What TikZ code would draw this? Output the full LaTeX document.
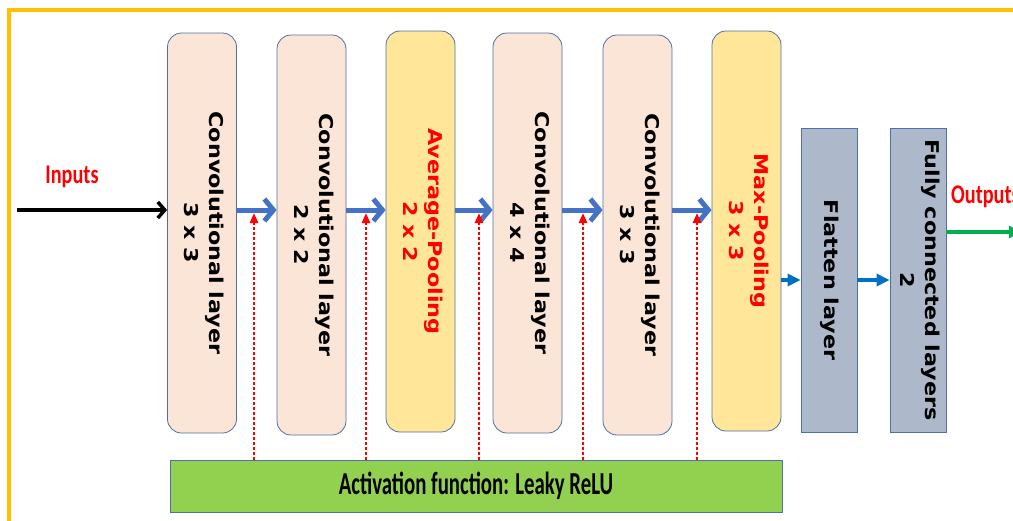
\documentclass[tikz,border=0pt]{standalone}
\usepackage{fontspec}
\setmainfont{DejaVu Sans}
\newfontfamily\boxfont{DejaVu Sans}[FakeStretch=1.17]
\newfontfamily\calfont{Carlito}
\usetikzlibrary{arrows.meta}
\definecolor{convfill}{HTML}{FBE5D6}
\definecolor{poolfill}{HTML}{FFE699}
\definecolor{densefill}{HTML}{ADB9CA}
\definecolor{barfill}{HTML}{92D050}
\definecolor{edgecol}{HTML}{4F6FAA}
\definecolor{framecol}{HTML}{FFC000}
\definecolor{flowblue}{HTML}{4472C4}
\definecolor{smallblue}{HTML}{0070C0}
\definecolor{outgreen}{HTML}{00B050}
\definecolor{lblred}{HTML}{FF0000}
\newcommand\vlabel[1]{\rotatebox{-90}{\begin{tabular}{@{}c@{}}#1\end{tabular}}}
\begin{document}
\begin{tikzpicture}[x=1pt,y=-1pt,
  layerbox/.style={draw=edgecol, line width=0.8pt, rounded corners=14pt, inner sep=0pt,
    minimum width=69pt, minimum height=400pt,
    font=\boxfont\bfseries\fontsize{19}{25}\selectfont},
  convbox/.style={layerbox, fill=convfill},
  poolbox/.style={layerbox, fill=poolfill, text=lblred},
  densebox/.style={draw=edgecol, line width=0.8pt, fill=densefill, inner sep=0pt,
    minimum width=56pt, minimum height=304pt,
    font=\boxfont\bfseries\fontsize{19}{25}\selectfont},
  barbox/.style={draw=edgecol, line width=0.8pt, fill=barfill, inner sep=0pt,
    minimum width=612pt, minimum height=52pt,
    font=\calfont\bfseries\fontsize{32}{36}\selectfont},
  redlabel/.style={text=lblred, inner sep=0pt, font=\calfont\bfseries\fontsize{27}{30}\selectfont},
  flowarrow/.style={draw=flowblue, line width=5pt, -{Straight Barb[length=9pt,width=22pt]}},
  inarrow/.style={draw=black, line width=3.5pt, -{Straight Barb[length=7pt,width=16pt]}},
  smallarrow/.style={draw=smallblue, line width=4pt, -{Triangle[length=13pt,width=12pt]}},
  actarrow/.style={draw=lblred, line width=2.6pt, dash pattern=on 2.6pt off 2.4pt, -{Triangle[length=10pt,width=8pt]}},
  outarrow/.style={draw=outgreen, line width=4pt, -{Triangle[length=12pt,width=12pt]}}
]
\useasboundingbox (0,0) rectangle (1013,520);
% frame
\draw[framecol, line width=4.5pt] (9,10) rectangle (1060,570);

% layers
\node[convbox, minimum height=400pt] (c1) at (202,233) {\vlabel{Convolutional layer\\3 x 3}};
\node[convbox, minimum height=400pt] (c2) at (311.5,235) {\vlabel{Convolutional layer\\2 x 2}};
\node[poolbox, minimum height=401pt] (ap) at (420.5,231.5) {\vlabel{Average-Pooling\\2 x 2}};
\node[convbox, minimum height=400pt] (c4) at (527.5,233) {\vlabel{Convolutional layer\\4 x 4}};
\node[convbox, minimum height=400pt] (c5) at (637.5,235) {\vlabel{Convolutional layer\\3 x 3}};
\node[poolbox, minimum height=400pt] (mp) at (746.5,231) {\vlabel{Max-Pooling\\3 x 3}};
\node[densebox] (fl) at (829,280) {\vlabel{Flatten layer}};
\node[densebox] (fc) at (918,280) {\vlabel{Fully connected layers\\2}};
\node[barbox] (act) at (476,486) {\scalebox{0.65}[1]{Activation function: Leaky ReLU}};

% labels
\node[redlabel] (inlbl) at (72,177) {\scalebox{0.75}[1]{Inputs}};
\node[redlabel, anchor=west] (outlbl) at (951,197) {\scalebox{0.75}[1]{Outputs}};

% helper coordinates
\coordinate (flow) at (0,210);
\coordinate (small) at (0,280);
\coordinate (outy) at (0,232);
\coordinate (inStart) at (17,210);
\coordinate (outEnd) at (1021,232);
\coordinate (d1) at (254,213);
\coordinate (d2) at (366,213);
\coordinate (d3) at (479,213);
\coordinate (d4) at (583,213);
\coordinate (d5) at (697,213);

% main flow
\draw[inarrow] (inStart) -- (c1.west |- flow);
\draw[flowarrow] (c1.east |- flow) -- (c2.west |- flow);
\draw[flowarrow] (c2.east |- flow) -- (ap.west |- flow);
\draw[flowarrow] (ap.east |- flow) -- (c4.west |- flow);
\draw[flowarrow] (c4.east |- flow) -- (c5.west |- flow);
\draw[flowarrow] (c5.east |- flow) -- (mp.west |- flow);
\draw[smallarrow] (mp.east |- small) -- (fl.west |- small);
\draw[smallarrow] (fl.east |- small) -- (fc.west |- small);
\draw[outarrow] (fc.east |- outy) -- (outEnd);

% activation links
\foreach \d in {d1,d2,d3,d4,d5}
  \draw[actarrow] (act.north -| \d) -- (\d);
\end{tikzpicture}
\end{document}
